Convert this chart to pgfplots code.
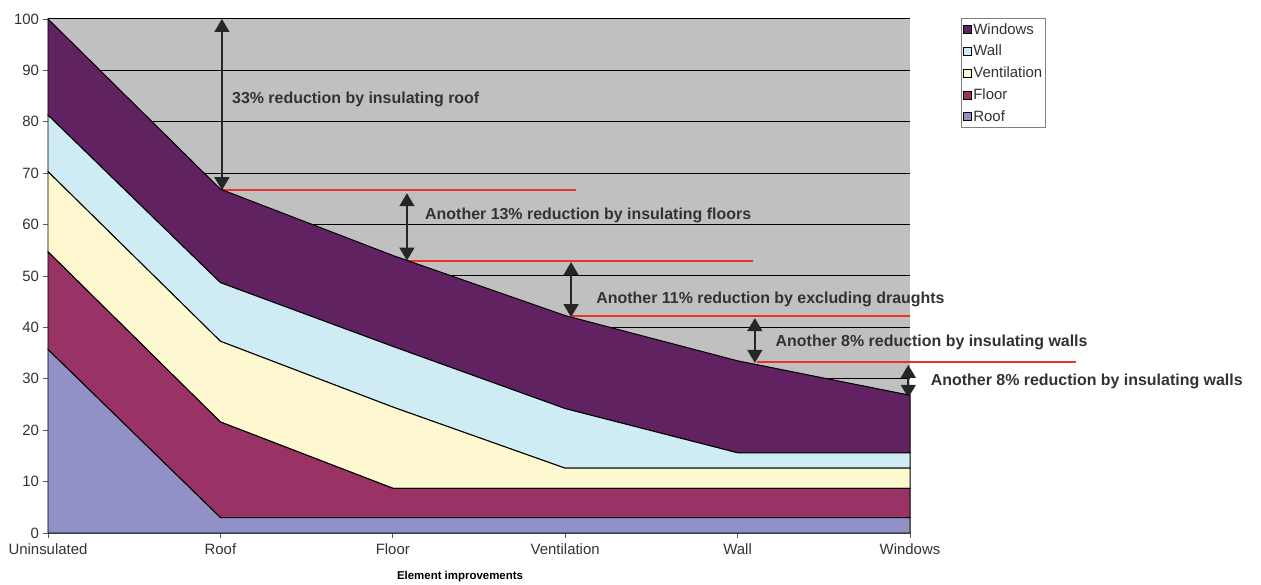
\documentclass[border=0pt]{standalone}
\usepackage{pgfplots}
\pgfplotsset{compat=1.18}
\usetikzlibrary{arrows.meta}
\usepackage{fontspec}
\setmainfont{Liberation Sans}
\definecolor{bggray}{RGB}{192,192,192}
\definecolor{cwin}{RGB}{96,34,96}
\definecolor{cwall}{RGB}{207,236,244}
\definecolor{cvent}{RGB}{253,248,208}
\definecolor{cfloor}{RGB}{153,51,102}
\definecolor{croof}{RGB}{145,145,200}
\definecolor{cred}{RGB}{235,50,40}
\definecolor{ctext}{RGB}{50,50,50}
\begin{document}
\begin{tikzpicture}
\path[use as bounding box] (-48bp,-52bp) rectangle (1213bp,533bp);
\begin{axis}[
  at={(0,0)}, anchor=origin,
  scale only axis, width=862bp, height=514bp,
  xmin=0, xmax=5, ymin=0, ymax=100,
  enlargelimits=false, clip=false,
  stack plots=y,
  axis background/.style={fill=bggray},
  axis x line*=bottom, axis y line*=left,
  axis line style={draw=gray!70!black, line width=1pt, -},
  xtick={0,1,2,3,4,5},
  xticklabels={Uninsulated,Roof,Floor,Ventilation,Wall,Windows},
  ytick={0,10,...,100},
  ymajorgrids, grid style={draw=black, line width=1pt},
  tick align=outside, major tick length=5bp,
  tick style={draw=gray!70!black, line width=0.8pt},
  /pgf/number format/assume math mode=true,
  ticklabel style={font=\fontsize{15}{17}\selectfont, text=ctext},
  xticklabel style={yshift=-2bp},
  yticklabel style={xshift=-0.5bp},
  legend style={at={(rel axis cs:1.059,1.002)}, anchor=north west,
    draw=gray, fill=white, font=\fontsize{15}{17}\selectfont, text=ctext,
    inner xsep=1.5bp, inner ysep=3bp, row sep=5.5bp, line width=0.8pt},
  legend cell align=left,
  reverse legend,
  legend image code/.code={\draw[#1, draw=black, line width=0.6pt] (0bp,-4bp) rectangle (8bp,4bp);},
]
\addplot[fill=croof, draw=black, line width=1pt] coordinates {(0,35.7) (1,3.0) (2,3.0) (3,3.0) (4,3.0) (5,3.0)} \closedcycle;
\addlegendentry{Roof}
\addplot[fill=cfloor, draw=black, line width=1pt] coordinates {(0,19.0) (1,18.6) (2,5.7) (3,5.7) (4,5.7) (5,5.7)} \closedcycle;
\addlegendentry{Floor}
\addplot[fill=cvent, draw=black, line width=1pt] coordinates {(0,15.6) (1,15.7) (2,15.8) (3,3.9) (4,3.9) (5,3.9)} \closedcycle;
\addlegendentry{Ventilation}
\addplot[fill=cwall, draw=black, line width=1pt] coordinates {(0,11.0) (1,11.4) (2,11.8) (3,11.6) (4,3.0) (5,3.0)} \closedcycle;
\addlegendentry{Wall}
\addplot[fill=cwin, draw=black, line width=1pt] coordinates {(0,18.7) (1,18.2) (2,17.7) (3,18.1) (4,17.9) (5,11.2)} \closedcycle;
\addlegendentry{Windows}

% red reference lines
\draw[cred, line width=1.6pt] (axis cs:1.01,66.7) -- (axis cs:3.06,66.7);
\draw[cred, line width=1.6pt] (axis cs:2.09,52.9) -- (axis cs:4.09,52.9);
\draw[cred, line width=1.6pt] (axis cs:3.04,42.2) -- (axis cs:5.0,42.2);
\draw[cred, line width=1.6pt] (axis cs:4.11,33.3) -- (axis cs:5.96,33.3);
% arrows
\tikzset{dbl/.style={draw=black!85, line width=1.6pt, {Triangle[width=15bp,length=13bp]}-{Triangle[width=15bp,length=13bp]}}}
\draw[dbl] (axis cs:1.009,100) -- (axis cs:1.009,66.7);
\draw[dbl] (axis cs:2.082,66.1) -- (axis cs:2.082,53.0);
\draw[dbl] (axis cs:3.034,52.7) -- (axis cs:3.034,42.0);
\draw[dbl] (axis cs:4.10,41.8) -- (axis cs:4.10,33.1);
\draw[dbl] (axis cs:4.99,32.7) -- (axis cs:4.99,26.3);
% annotation texts
\tikzset{ann/.style={anchor=west, inner sep=0pt, text=ctext, font=\bfseries\fontsize{16}{18}\selectfont}}
\node[ann] at (axis cs:1.067,84.4) {33\% reduction by insulating roof};
\node[ann] at (axis cs:2.187,61.8) {Another 13\% reduction by insulating floors};
\node[ann] at (axis cs:3.18,45.5) {Another 11\% reduction by excluding draughts};
\node[ann] at (axis cs:4.22,37.0) {Another 8\% reduction by insulating walls};
\node[ann] at (axis cs:5.12,29.4) {Another 8\% reduction by insulating walls};
% x label
\node[text=black, font=\bfseries\fontsize{11.5}{13}\selectfont] at ([yshift=-44bp]rel axis cs:0.478,0) {Element improvements};
\end{axis}
\end{tikzpicture}
\end{document}
